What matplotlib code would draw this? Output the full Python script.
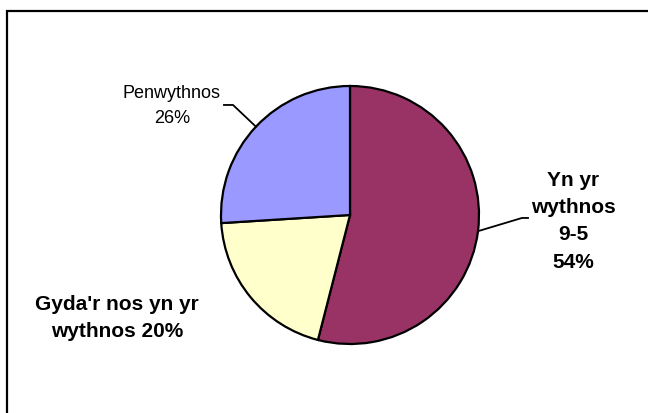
import numpy as np
import matplotlib
matplotlib.use("Agg")
import matplotlib.pyplot as plt
from matplotlib.patches import Rectangle

plt.rcParams['font.family'] = ['Liberation Sans', 'DejaVu Sans']

categories = ["Yn yr\nwythnos\n9-5", "Gyda'r nos yn yr\nwythnos", "Penwythnos"]
shares = [54, 20, 26]
colors = ["#993366", "#FFFFCC", "#9999FF"]

W, H = 648, 414
fig = plt.figure(figsize=(W / 100, H / 100), dpi=100)

# pie centre (350, 216) px, radius 129 px
cx, cy, r = 350, 216, 129
ax = fig.add_axes([(cx - r) / W, (H - cy - r) / H, 2 * r / W, 2 * r / H])
wedges, _ = ax.pie(shares, colors=colors, startangle=90, counterclock=False,
                   wedgeprops=dict(edgecolor="black", linewidth=1.6))
ax.set_xlim(-1, 1)
ax.set_ylim(-1, 1)
ax.set_aspect("equal")
ax.axis("off")


def mid(w):
    a = np.deg2rad((w.theta1 + w.theta2) / 2)
    return np.cos(a), np.sin(a)


# Penwythnos label (normal weight) with elbow leader
ex, ey = mid(wedges[2])
ax.text(-1.38, 0.853, "%s\n%d%%" % (categories[2], shares[2]), ha="center",
        va="center", fontsize=13, linespacing=1.55)
ax.plot([-0.977, -0.907, ex], [0.853, 0.853, ey], color="black", lw=1.3,
        clip_on=False)

# Yn yr wythnos label (bold)
ex, ey = mid(wedges[0])
ax.text(1.73, -0.04, "%s\n%d%%" % (categories[0], shares[0]), ha="center",
        va="center", fontsize=15, fontweight="bold", linespacing=1.55)
ax.plot([1.38, 1.333, ex], [-0.023, -0.023, ey], color="black", lw=1.3,
        clip_on=False)

# Gyda'r nos label (bold), no leader
ax.text(-1.806, -0.79, "%s %d%%" % (categories[1], shares[1]), ha="center",
        va="center", fontsize=15, fontweight="bold", linespacing=1.5)

# outer frame
fig.patches.append(Rectangle((7 / W, -0.1), 1.2, (H - 12) / H + 0.1,
                             transform=fig.transFigure, fill=False,
                             edgecolor="black", linewidth=1.6))

fig.savefig("out.png", dpi=100)
